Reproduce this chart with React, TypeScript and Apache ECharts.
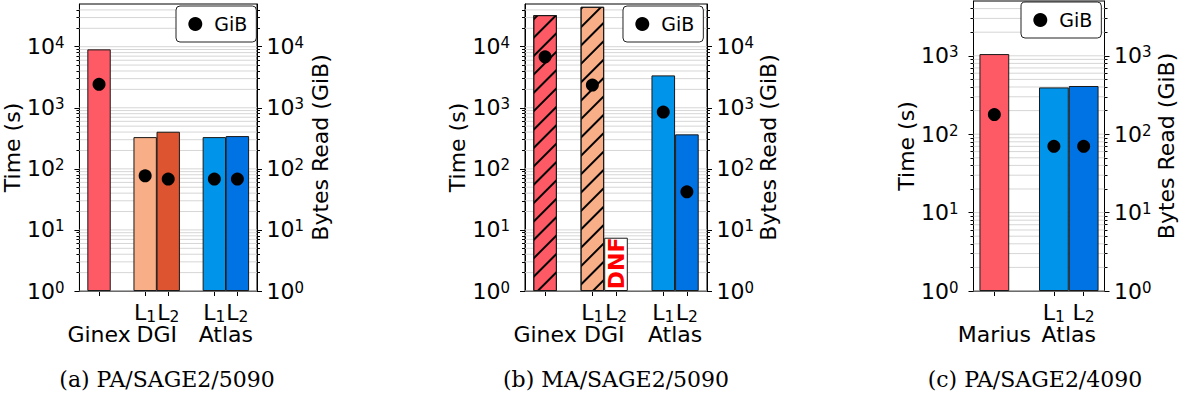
import React, { useEffect, useRef } from 'react';
import * as echarts from 'echarts';

const FONT = 'DejaVu Sans';
const SERIF = 'DejaVu Serif';

// ---------- data ----------
// shared y ticks (log scale)
const majorTicks = [1, 10, 100, 1000, 10000];
const minorMultipliers = [2, 3, 4, 5, 6, 7, 8, 9];

// (a) PA/SAGE2/5090
const aPositions = [0, 2, 3, 5, 6];
const aTimeSec = [9040, 331, 405, 331, 344];
const aGiBRead = [2420, 77, 68, 68, 68];
const aColors = ['#FD5A66', '#F8AE86', '#DC5430', '#0095EA', '#0073E4'];
const aLevels = ['', '1', '2', '1', '2'];
const aGroups = ['Ginex', 'DGI', 'Atlas'];
const aGroupPositions = [0, 2.5, 5.5];
const aHatched = [false, false, false, false, false];
const aDNF = [false, false, false, false, false];

// (b) MA/SAGE2/5090
const bPositions = [0, 2, 3, 5, 6];
const bTimeSec = [32900, 45000, 7.45, 3390, 367];
const bGiBRead: (number | null)[] = [6840, 2350, null, 850, 42];
const bColors = ['#FD5A66', '#F8AE86', '#FFFFFF', '#0095EA', '#0073E4'];
const bLevels = ['', '1', '2', '1', '2'];
const bGroups = ['Ginex', 'DGI', 'Atlas'];
const bGroupPositions = [0, 2.5, 5.5];
const bHatched = [true, true, false, false, false];
const bDNF = [false, false, true, false, false];

// (c) PA/SAGE2/4090
const cPositions = [0, 2, 3];
const cTimeSec = [1052, 395, 412];
const cGiBRead = [178, 70, 70];
const cColors = ['#FD5A66', '#0095EA', '#0073E4'];
const cLevels = ['', '1', '2'];
const cGroups = ['Marius', 'Atlas'];
const cGroupPositions = [0, 2.5];
const cHatched = [false, false, false];
const cDNF = [false, false, false];

const captions = ['(a) PA/SAGE2/5090', '(b) MA/SAGE2/5090', '(c) PA/SAGE2/4090'];

// ---------- layout ----------
const panels = [
  {
    grid: { left: 77, top: 4, width: 180, height: 287 },
    xMin: -0.85, xMax: 6.85, yMax: 50000, barWidth: 23.4,
    legend: { left: 176, top: 6 },
    leftGap: 48, rightGap: 52, captionX: 167,
    positions: aPositions, times: aTimeSec, gib: aGiBRead, colors: aColors,
    levels: aLevels, groups: aGroups, groupPositions: aGroupPositions,
    hatched: aHatched, dnf: aDNF,
  },
  {
    grid: { left: 525, top: 4, width: 182, height: 287 },
    xMin: -0.85, xMax: 6.85, yMax: 50000, barWidth: 23.6,
    legend: { left: 623, top: 6 },
    leftGap: 47, rightGap: 45, captionX: 616,
    positions: bPositions, times: bTimeSec, gib: bGiBRead, colors: bColors,
    levels: bLevels, groups: bGroups, groupPositions: bGroupPositions,
    hatched: bHatched, dnf: bDNF,
  },
  {
    grid: { left: 973.5, top: 1, width: 131, height: 290 },
    xMin: -0.7, xMax: 3.7, yMax: 5000, barWidth: 29.8,
    legend: { left: 1021, top: 2 },
    leftGap: 46, rightGap: 48, captionX: 1035,
    positions: cPositions, times: cTimeSec, gib: cGiBRead, colors: cColors,
    levels: cLevels, groups: cGroups, groupPositions: cGroupPositions,
    hatched: cHatched, dnf: cDNF,
  },
];

const yRich = {
  b: { fontSize: 22, fontFamily: FONT, color: '#000', lineHeight: 22 },
  s: { fontSize: 15, fontFamily: FONT, color: '#000', lineHeight: 12, verticalAlign: 'top' },
};
const xRich = {
  m: { fontSize: 22, fontFamily: FONT, color: '#000', verticalAlign: 'top' },
  s: { fontSize: 15.5, fontFamily: FONT, color: '#000', verticalAlign: 'top', padding: [8, 0, 0, 0] },
};

function yFormatter(v: number) {
  const e = Math.round(Math.log10(v));
  return `{b|10}{s|${e}}`;
}

function buildOption() {
  const grids: any[] = [];
  const xAxes: any[] = [];
  const yAxes: any[] = [];
  const series: any[] = [];
  const legends: any[] = [];
  const graphics: any[] = [];

  panels.forEach((p, i) => {
    grids.push({ ...p.grid, show: true, borderColor: '#000', borderWidth: 1, backgroundColor: 'transparent' });

    const majors = majorTicks.filter((v) => v <= p.yMax);
    const minors: number[] = [];
    majors.forEach((m) => minorMultipliers.forEach((k) => { if (m * k < p.yMax) minors.push(m * k); }));

    const levelPos = p.positions.filter((_, j) => p.levels[j] !== '');
    const xBase = xAxes.length;
    xAxes.push({
      gridIndex: i, type: 'value', position: 'bottom', min: p.xMin, max: p.xMax,
      axisLine: { show: true, onZero: false, lineStyle: { color: '#000', width: 1 } },
      axisTick: { show: true, length: 5, customValues: p.positions, lineStyle: { color: '#000', width: 1 } },
      axisLabel: {
        show: true, customValues: levelPos, margin: 10,
        formatter: (v: number) => {
          const j = p.positions.findIndex((q) => Math.abs(q - v) < 1e-6);
          return j >= 0 && p.levels[j] ? `{m|L}{s|${p.levels[j]}}` : '';
        },
        rich: xRich,
      },
      splitLine: { show: false },
    });
    xAxes.push({
      gridIndex: i, type: 'value', position: 'bottom', min: p.xMin, max: p.xMax,
      axisLine: { show: false, onZero: false }, axisTick: { show: false },
      axisLabel: {
        show: true, customValues: p.groupPositions, margin: 32,
        fontSize: 22, fontFamily: FONT, color: '#000',
        formatter: (v: number) => {
          const j = p.groupPositions.findIndex((q) => Math.abs(q - v) < 1e-6);
          return j >= 0 ? p.groups[j] : '';
        },
      },
      splitLine: { show: false },
    });

    const yBase = yAxes.length;
    const nameStyle = { fontSize: 22, fontFamily: FONT, color: '#000' };
    yAxes.push({
      gridIndex: i, type: 'log', position: 'left', min: 1, max: p.yMax,
      name: 'Time (s)', nameLocation: 'middle', nameGap: p.leftGap, nameTextStyle: nameStyle,
      axisLine: { show: true, onZero: false, lineStyle: { color: '#000', width: 1 } },
      axisTick: { show: true, length: 5, customValues: majors, lineStyle: { color: '#000', width: 1 } },
      axisLabel: { show: true, customValues: majors, margin: 15, formatter: yFormatter, rich: yRich },
      splitLine: { show: false }, minorTick: { show: false },
    });
    yAxes.push({
      gridIndex: i, type: 'log', position: 'right', min: 1, max: p.yMax,
      name: 'Bytes Read (GiB)', nameLocation: 'middle', nameGap: p.rightGap, nameTextStyle: nameStyle,
      axisLine: { show: true, onZero: false, lineStyle: { color: '#000', width: 1 } },
      axisTick: { show: true, length: 5, customValues: majors, lineStyle: { color: '#000', width: 1 } },
      axisLabel: { show: true, customValues: majors, margin: 9.5, formatter: yFormatter, rich: yRich },
      splitLine: { show: false }, minorTick: { show: false },
    });
    ['left', 'right'].forEach((pos) => {
      yAxes.push({
        gridIndex: i, type: 'log', position: pos, min: 1, max: p.yMax,
        axisLine: { show: false, onZero: false },
        axisTick: { show: true, length: 3, customValues: minors, lineStyle: { color: '#000', width: 1 } },
        axisLabel: { show: false },
        splitLine: { show: false }, minorTick: { show: false },
      });
    });

    // grid lines (major + minor)
    const gridValues = [...majors, ...minors];
    series.push({
      type: 'custom', xAxisIndex: xBase, yAxisIndex: yBase, z: 1, silent: true,
      data: gridValues.map((v) => [p.xMin, v]),
      renderItem: (params: any, api: any) => {
        const cs = params.coordSys;
        const y = api.coord([api.value(0), api.value(1)])[1];
        return {
          type: 'line',
          shape: { x1: cs.x, y1: y, x2: cs.x + cs.width, y2: y },
          style: { stroke: '#d6d6d6', lineWidth: 1 },
        };
      },
    });

    series.push({
      type: 'bar', name: 'Time', xAxisIndex: xBase, yAxisIndex: yBase, z: 2,
      barWidth: p.barWidth,
      data: p.positions.map((x, j) => {
        const item: any = {
          value: [x, p.times[j]],
          itemStyle: { color: p.colors[j], borderColor: '#1a1a1a', borderWidth: 1 },
        };
        if (p.hatched[j]) {
          item.itemStyle.decal = {
            symbol: 'rect', symbolSize: 1, color: '#000',
            dashArrayX: [1, 0], dashArrayY: [1.1, 10.9], rotation: -Math.PI / 4,
          };
        }
        return item;
      }),
    });

    // "DNF" text centred in the placeholder bar (through the axes' scales)
    const dnfData = p.positions
      .map((x, j) => (p.dnf[j] ? [x, p.times[j]] : null))
      .filter((d) => d !== null);
    if (dnfData.length) {
      series.push({
        type: 'custom', xAxisIndex: xBase, yAxisIndex: yBase, z: 4, silent: true,
        data: dnfData,
        renderItem: (params: any, api: any) => {
          const top = api.coord([api.value(0), api.value(1)]);
          const base = api.coord([api.value(0), 1]);
          return {
            type: 'text',
            x: top[0], y: (top[1] + base[1]) / 2 - 1, rotation: Math.PI / 2,
            style: {
              text: 'DNF', fill: '#FF0000',
              font: 'bold 22px "DejaVu Sans"',
              fontSize: 22, fontWeight: 'bold', fontFamily: FONT,
              align: 'center', verticalAlign: 'middle',
            },
          };
        },
      });
    }

    series.push({
      type: 'scatter', name: 'GiB', xAxisIndex: xBase, yAxisIndex: yBase + 1, z: 3,
      symbol: 'circle', symbolSize: 13, itemStyle: { color: '#000', opacity: 1 },
      data: p.positions
        .map((x, j) => (p.gib[j] == null ? null : [x, p.gib[j]]))
        .filter((d) => d !== null),
    });

    legends.push({
      left: p.legend.left, top: p.legend.top, orient: 'horizontal',
      data: [{ name: 'GiB', icon: 'circle', itemStyle: { color: '#000', opacity: 1 } }],
      itemWidth: 14, itemHeight: 14,
      padding: [8, 9, 8, 12.3],
      borderColor: '#222', borderWidth: 1, borderRadius: 4, backgroundColor: '#fff',
      formatter: '{t|{name}}',
      textStyle: {
        fontSize: 19, fontFamily: FONT, color: '#000', lineHeight: 20,
        rich: { t: { fontSize: 19, fontFamily: FONT, color: '#000', lineHeight: 20, padding: [0, 0, 0, 7] } },
      },
      selectedMode: false, z: 10,
    });

    graphics.push({
      type: 'text', x: p.captionX, y: 379,
      style: {
        text: captions[i], fontSize: 22, fontFamily: SERIF, fill: '#000',
        textAlign: 'center', textVerticalAlign: 'middle',
      },
    });
  });

  return {
    animation: false,
    backgroundColor: '#fff',
    grid: grids,
    xAxis: xAxes,
    yAxis: yAxes,
    series,
    legend: legends,
    graphic: graphics,
  };
}

export default function App() {
  const ref = useRef<HTMLDivElement>(null);
  useEffect(() => {
    if (!ref.current) return;
    const chart = echarts.init(ref.current, undefined, { renderer: 'svg' });
    chart.setOption(buildOption() as any);
    return () => chart.dispose();
  }, []);
  return (
    <div
      ref={ref}
      style={{ position: 'absolute', left: 0, top: 0, width: 1183, height: 398 }}
    />
  );
}
